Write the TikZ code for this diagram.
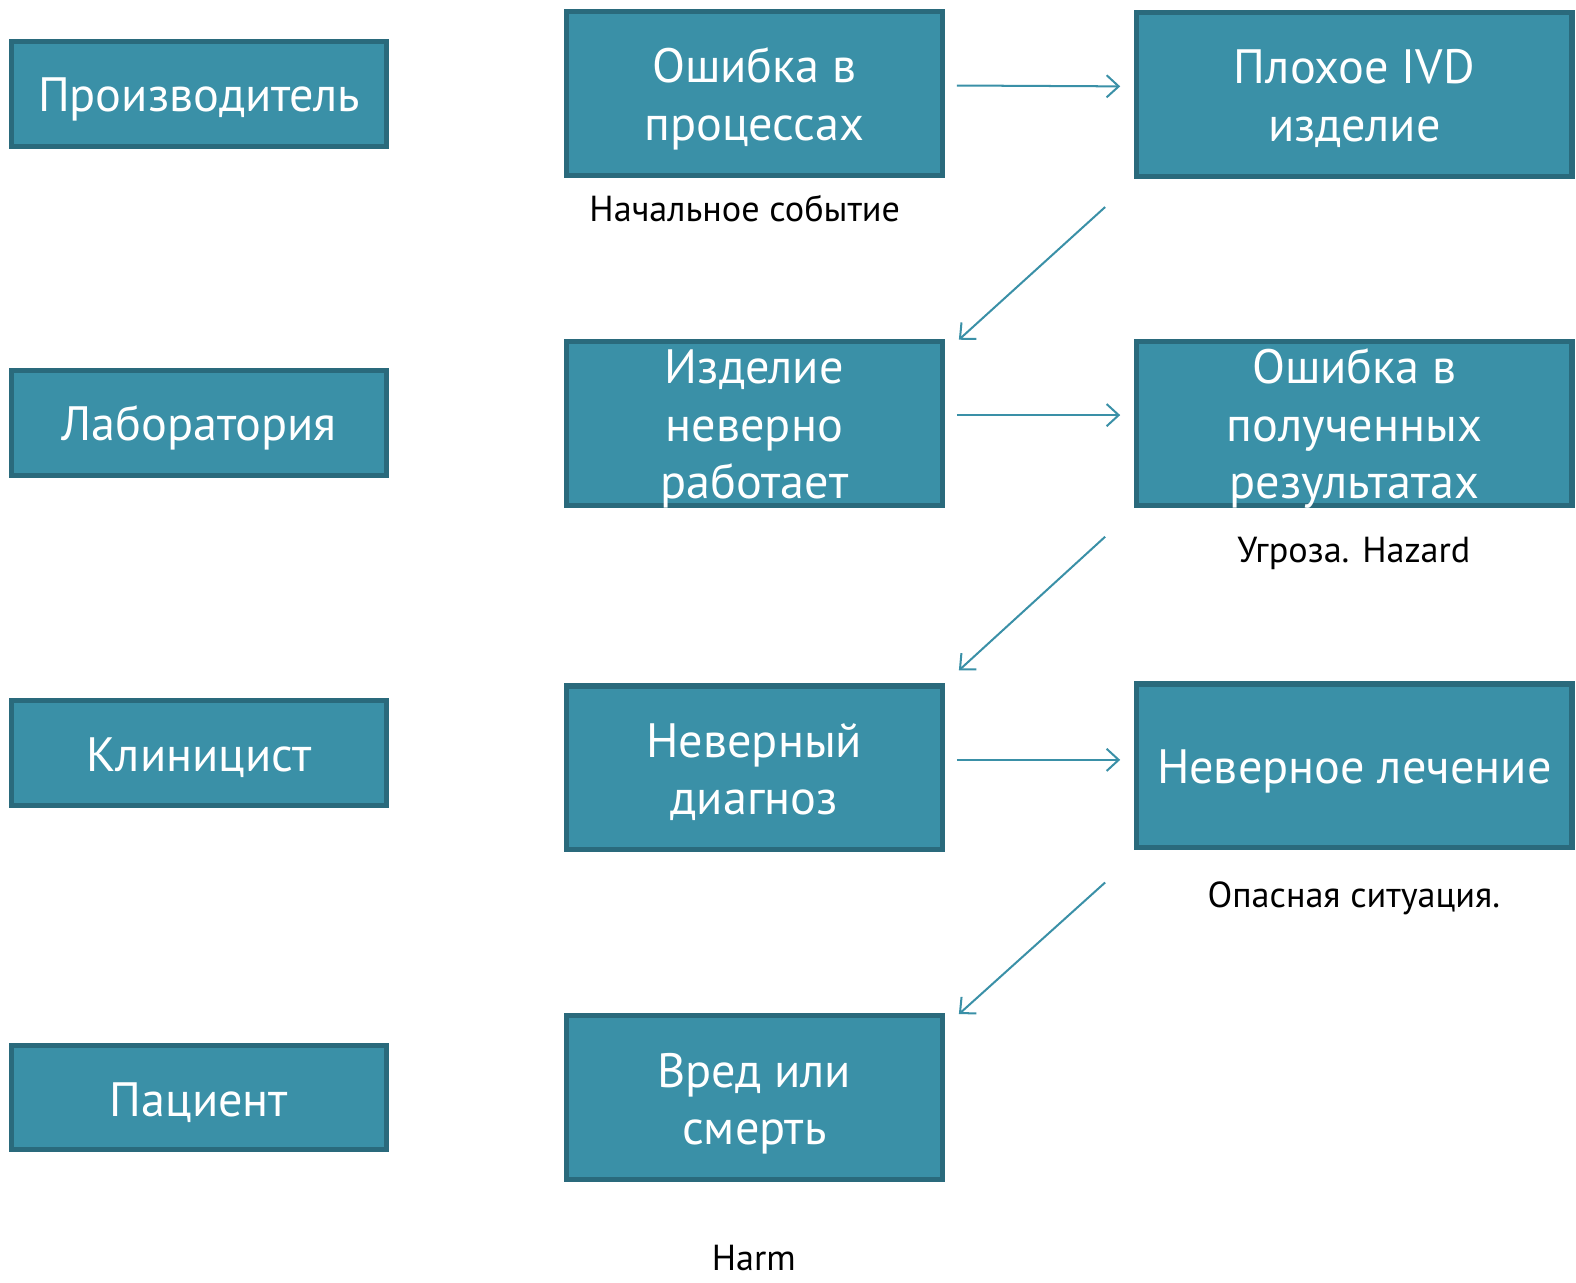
\documentclass[tikz,border=0pt]{standalone}
\usepackage{fontspec}
\setmainfont{PT Sans}
\usetikzlibrary{arrows.meta}
\definecolor{boxfill}{RGB}{58,144,167}
\definecolor{boxline}{RGB}{42,106,124}
\newcommand{\stack}[1]{\raisebox{-9.5pt}[0pt][0pt]{\begin{tabular}{@{}c@{}}#1\end{tabular}}}
\begin{document}
\begin{tikzpicture}[x=0.5pt, y=-0.5pt,
  cell/.style={draw=boxline, fill=boxfill, line width=2.5pt, text=white,
    font=\fontsize{24}{28.5}\selectfont, inner sep=0pt},
  role/.style={cell, execute at begin node={\rule{0pt}{21.8pt}},
    minimum width=187pt, minimum height=52pt},
  stage/.style={cell, minimum width=187pt, minimum height=81.5pt},
  wide/.style={stage, minimum width=216.5pt},
  note/.style={font=\fontsize{18}{21}\selectfont, inner sep=0pt},
  flow/.style={draw=boxfill, line width=1pt, -{Straight Barb[length=6pt, width=11pt]}}]
  \useasboundingbox (0,0) rectangle (1568,1276);
  % who is involved
  \node[role] (maker) at (198,93.5) {Производитель};
  \node[role] (lab) at (198,421) {Лаборатория};
  \node[role] (clin) at (198,749) {Клиницист};
  \node[role] (pat) at (198,1092) {Пациент};
  % chain of events
  \node[stage] (proc) at (750.5,93) {\stack{Ошибка в\\процессах}};
  \node[wide] (ivd) at (1347.5,94) {\stack{Плохое IVD\\изделие}};
  \node[stage] (fault) at (750.5,421) {\stack{Изделие\\неверно\\работает}};
  \node[wide] (res) at (1347.5,421) {\stack{Ошибка в\\полученных\\результатах}};
  \node[stage] (diag) at (750.5,764) {\stack{Неверный\\диагноз}};
  \node[wide] (treat) at (1347.5,762) {\stack{Неверное лечение}};
  \node[stage] (death) at (750.5,1092) {\stack{Вред или\\смерть}};
  % notes under the boxes
  \node[note] (start) at (741,208) {Начальное событие};
  \node[note] (hazard) at (1347,551) {Угроза. Hazard};
  \node[note] (danger) at (1347,894) {Опасная ситуация.};
  \node[note] (harm) at (750,1252) {Harm};
  % arrows
  \draw[flow, shorten <=6pt, shorten >=7pt] ([yshift=4pt]proc.east) -- ([yshift=4pt]ivd.west);
  \draw[flow, shorten <=6pt, shorten >=7pt] ([yshift=4pt]fault.east) -- ([yshift=4pt]res.west);
  \draw[flow, shorten <=6pt, shorten >=7pt] ([yshift=4pt]diag.east) -- ([yshift=3pt]treat.west);
  \draw[flow] ([xshift=-14.5pt, yshift=-14pt]ivd.south west) -- ([xshift=7pt, yshift=-0.5pt]fault.north east);
  \draw[flow] ([xshift=-14.5pt, yshift=-14.5pt]res.south west) -- ([xshift=7pt, yshift=6.5pt]diag.north east);
  \draw[flow] ([xshift=-14.5pt, yshift=-16pt]treat.south west) -- ([xshift=7pt, yshift=-0.5pt]death.north east);
\end{tikzpicture}
\end{document}
